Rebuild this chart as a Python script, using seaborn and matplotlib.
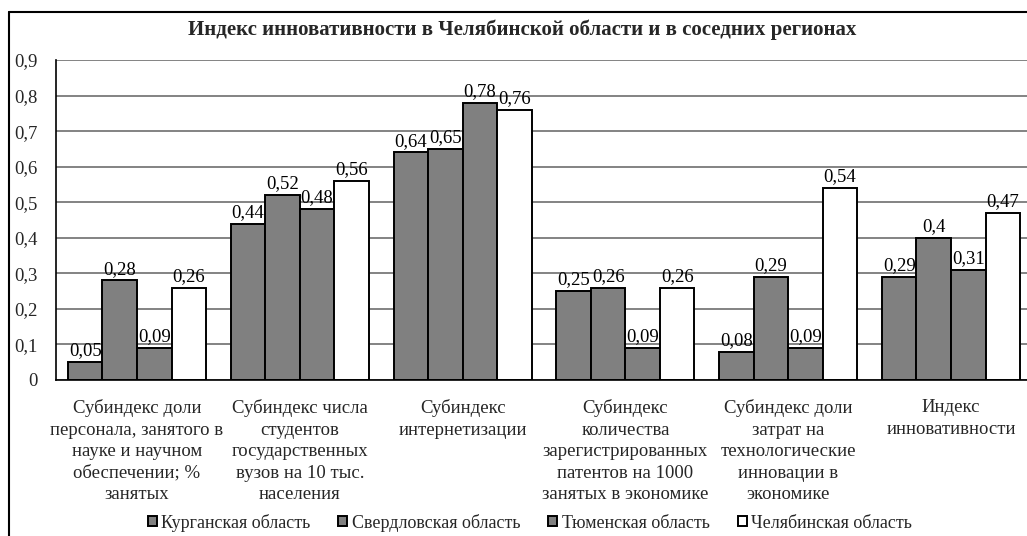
import matplotlib
matplotlib.use("Agg")
import matplotlib.pyplot as plt
import seaborn as sns
import pandas as pd
from matplotlib.lines import Line2D

categories = [
    "Субиндекс доли\nперсонала, занятого в\nнауке и научном\nобеспечении; %\nзанятых",
    "Субиндекс числа\nстудентов\nгосударственных\nвузов на 10 тыс.\nнаселения",
    "Субиндекс\nинтернетизации",
    "Субиндекс\nколичества\nзарегистрированных\nпатентов на 1000\nзанятых в экономике",
    "Субиндекс доли\nзатрат на\nтехнологические\nинновации в\nэкономике",
    "Индекс\nинновативности",
]
series_names = ["Курганская область", "Свердловская область", "Тюменская область", "Челябинская область"]
kurgan = [0.05, 0.44, 0.64, 0.25, 0.08, 0.29]
sverdl = [0.28, 0.52, 0.65, 0.26, 0.29, 0.40]
tyumen = [0.09, 0.48, 0.78, 0.09, 0.09, 0.31]
chelyab = [0.26, 0.56, 0.76, 0.26, 0.54, 0.47]
yticks = [0, 0.1, 0.2, 0.3, 0.4, 0.5, 0.6, 0.7, 0.8, 0.9]
title = "Индекс инновативности в Челябинской области и в соседних регионах"

rows = []
for name, vals in zip(series_names, [kurgan, sverdl, tyumen, chelyab]):
    for c, v in zip(categories, vals):
        rows.append({"cat": c, "series": name, "value": v})
df = pd.DataFrame(rows)

sns.set_theme(style="white")
plt.rcParams["font.family"] = ["Liberation Serif", "DejaVu Serif"]

W, H = 1027, 536
fig = plt.figure(figsize=(W / 100, H / 100), dpi=100)
left_px, right_px, top_px, bot_px = 55.6, 1032.4, 60, 380
ax = fig.add_axes([left_px / W, 1 - bot_px / H, (right_px - left_px) / W, (bot_px - top_px) / H])

palette = ["#808080", "#808080", "#808080", "#ffffff"]
sns.barplot(data=df, x="cat", y="value", hue="series", palette=palette,
            edgecolor="black", linewidth=1.4, width=0.848, gap=0, ax=ax,
            legend=True, saturation=1)

for cont in ax.containers:
    ax.bar_label(cont, labels=[f"{v:g}".replace(".", ",") for v in cont.datavalues],
                 fontsize=13.5, padding=2, color="black")

ax.set_ylim(0, 0.9)
ax.set_yticks(yticks)
ax.set_yticklabels([f"{t:g}".replace(".", ",") for t in yticks], fontsize=13.5)
ax.set_xticks(range(len(categories)))
ax.set_xticklabels(categories, fontsize=13.5, linespacing=1.34)
ax.yaxis.grid(True, color="#7a7a7a", linewidth=1.3)
ax.set_axisbelow(True)
ax.set_xlabel("")
ax.set_ylabel("")
ax.tick_params(axis="x", length=0, pad=14)
ax.tick_params(axis="y", length=0, pad=13)
for s in ["top", "right"]:
    ax.spines[s].set_visible(False)
for s in ["left", "bottom"]:
    ax.spines[s].set_color("black")
    ax.spines[s].set_linewidth(1.2)

handles, labels = ax.get_legend_handles_labels()
ax.legend_.remove()
fig.legend(handles, labels, loc="center", bbox_to_anchor=(0.516, 0.025), ncol=4,
           frameon=False, fontsize=13, handlelength=0.5, handleheight=0.5,
           columnspacing=1.55, handletextpad=0.25)

fig.text(0.508, 1 - 30 / H, title, ha="center", va="center", fontsize=15, fontweight="bold")

fig.lines.append(Line2D([9 / W, 9 / W], [0, 1 - 12 / H], transform=fig.transFigure,
                        color="black", linewidth=1.5))
fig.lines.append(Line2D([9 / W, 1], [1 - 12 / H, 1 - 12 / H], transform=fig.transFigure,
                        color="black", linewidth=1.5))

fig.savefig("out.png", dpi=100)
